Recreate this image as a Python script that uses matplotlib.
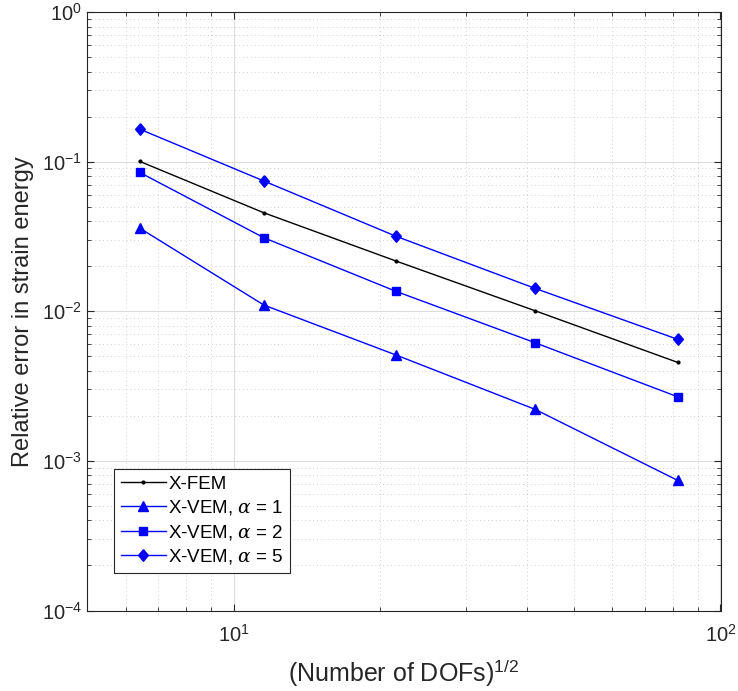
import numpy as np
import matplotlib
matplotlib.use("Agg")
import matplotlib.pyplot as plt
from matplotlib.ticker import LogLocator, NullFormatter

plt.rcParams['font.family'] = ['Liberation Sans', 'DejaVu Sans']
plt.rcParams['mathtext.fontset'] = 'custom'
plt.rcParams['mathtext.rm'] = 'Liberation Sans'
plt.rcParams['mathtext.it'] = 'DejaVu Serif:italic'

# sqrt(DOFs) for each refinement level
ndof_sqrt = [6.41, 11.54, 21.56, 41.6, 81.7]

# relative error in strain energy
err_xfem = [0.1005, 0.0455, 0.02166, 0.01008, 0.00455]
err_a1 = [0.0360, 0.0110, 0.0051, 0.00221, 0.00074]
err_a2 = [0.0848, 0.0310, 0.01358, 0.00616, 0.00268]
err_a5 = [0.165, 0.0742, 0.0317, 0.01422, 0.00649]

labels = ["X-FEM", r"X-VEM, $\alpha$ = 1", r"X-VEM, $\alpha$ = 2", r"X-VEM, $\alpha$ = 5"]

# MATLAB-style diamond (a bit wider than matplotlib's thin 'd')
diamond = [(0, 1), (0.85, 0), (0, -1), (-0.85, 0), (0, 1)]

fig = plt.figure(figsize=(7.38, 6.91), dpi=100)
ax = fig.add_axes([87 / 738, 1 - 610.5 / 691, (720.5 - 87) / 738, (610.5 - 12) / 691])

ax.loglog(ndof_sqrt, err_xfem, 'k.-', lw=1, ms=4, label=labels[0])
ax.loglog(ndof_sqrt, err_a1, 'b^-', lw=1, ms=7.5, label=labels[1])
ax.loglog(ndof_sqrt, err_a2, 'bs-', lw=1, ms=5.6, label=labels[2])
ax.loglog(ndof_sqrt, err_a5, 'b-', marker=diamond, lw=1, ms=8.3, label=labels[3])

ax.set_xlim(5, 100)
ax.set_ylim(1e-4, 1)
ax.xaxis.set_major_locator(LogLocator(base=10, numticks=10))
ax.yaxis.set_major_locator(LogLocator(base=10, numticks=10))
ax.xaxis.set_minor_locator(LogLocator(base=10, subs=np.arange(2, 10), numticks=20))
ax.yaxis.set_minor_locator(LogLocator(base=10, subs=np.arange(2, 10), numticks=20))
ax.xaxis.set_minor_formatter(NullFormatter())
ax.yaxis.set_minor_formatter(NullFormatter())

ax.grid(True, which='major', color='#dcdcdc', lw=0.8, ls='-')
ax.grid(True, which='minor', color='#d0d0d0', lw=0.7, ls=(0, (1, 3)))
ax.set_axisbelow(True)
ax.tick_params(which='both', direction='in', top=True, right=True, labelsize=14.5, colors='#262626')
ax.tick_params(which='major', length=5)
ax.tick_params(which='minor', length=3)
ax.tick_params(axis='x', which='major', pad=10)
for s in ax.spines.values():
    s.set_color('#262626')
    s.set_linewidth(0.8)

ax.set_xlabel(r"(Number of DOFs)$^{1/2}$", fontsize=18, color='#262626', labelpad=8)
ax.set_ylabel("Relative error in strain energy", fontsize=17, color='#262626')
ax.yaxis.set_label_coords(-0.083, 0.5)

leg = ax.legend(loc='lower left', bbox_to_anchor=(0.0426, 0.0627), fontsize=13.5, fancybox=False,
                framealpha=1, edgecolor='#262626', handlelength=2.4, borderpad=0.35,
                labelspacing=0.3, handletextpad=0.15, borderaxespad=0)
leg.get_frame().set_linewidth(0.8)

fig.savefig("out.png", dpi=100)
